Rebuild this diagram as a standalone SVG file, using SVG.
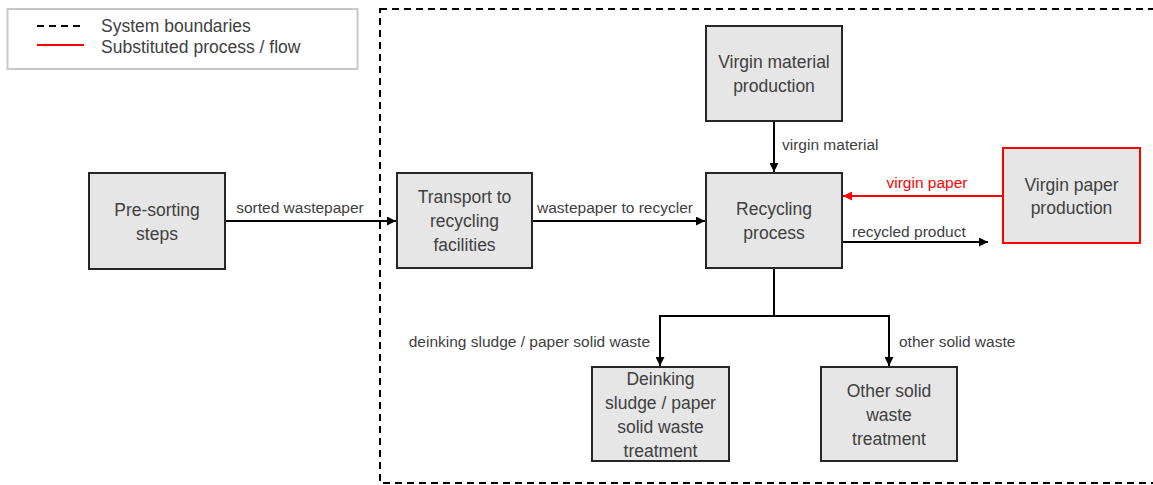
<svg xmlns="http://www.w3.org/2000/svg" width="1153" height="485" viewBox="0 0 1153 485">
<style>
.node{fill:#e6e6e6;stroke:#262626;stroke-width:2}
.nt{font-family:"Liberation Sans",Arial,sans-serif;font-size:17.5px;fill:#404040;text-anchor:middle}
.el{font-family:"Liberation Sans",Arial,sans-serif;font-size:15.5px;fill:#404040}
.lg{font-family:"Liberation Sans",Arial,sans-serif;font-size:17.5px;fill:#404040}
.ln{fill:none;stroke:#000;stroke-width:2}
.red{fill:none;stroke:#ff0000;stroke-width:2}
</style>
<defs>
<marker id="ah" viewBox="0 0 10 10" refX="10" refY="5" markerWidth="4.5" markerHeight="4.5" orient="auto" markerUnits="strokeWidth"><path d="M0,0 L10,5 L0,10 z" fill="#000"/></marker>
<marker id="ahr" viewBox="0 0 10 10" refX="10" refY="5" markerWidth="4.5" markerHeight="4.5" orient="auto" markerUnits="strokeWidth"><path d="M0,0 L10,5 L0,10 z" fill="#ff0000"/></marker>
</defs>
<rect width="1153" height="485" fill="#fff"/>
<g id="legend">
<rect x="7.5" y="9" width="350" height="60" fill="#fff" stroke="#c8c8c8" stroke-width="2"/>
<line x1="37" y1="26" x2="84" y2="26" stroke="#000" stroke-width="2" stroke-dasharray="7,5"/>
<line x1="37" y1="45" x2="84" y2="45" stroke="#ff0000" stroke-width="2"/>
<text x="101" y="32" class="lg">System boundaries</text>
<text x="101" y="53" class="lg">Substituted process / flow</text>
</g>
<g id="boundary">
<rect x="380" y="9" width="800" height="474" fill="none" stroke="#000" stroke-width="2" stroke-dasharray="7,5"/>
</g>
<g id="connectors">
<line class="ln" x1="225" y1="221" x2="396" y2="221" marker-end="url(#ah)"/>
<text class="el" x="300" y="213" text-anchor="middle">sorted wastepaper</text>
<line class="ln" x1="532" y1="221" x2="705" y2="221" marker-end="url(#ah)"/>
<text class="el" x="615" y="213" text-anchor="middle">wastepaper to recycler</text>
<line class="ln" x1="774" y1="121" x2="774" y2="172" marker-end="url(#ah)"/>
<text class="el" x="782" y="150">virgin material</text>
<line class="red" x1="1003" y1="196" x2="843" y2="196" marker-end="url(#ahr)"/>
<text class="el" x="927" y="188" text-anchor="middle" style="fill:#ff0000">virgin paper</text>
<line class="ln" x1="842" y1="242" x2="988" y2="242" marker-end="url(#ah)"/>
<text class="el" x="852" y="237">recycled product</text>
<line class="ln" x1="774" y1="268" x2="774" y2="316"/>
<polyline class="ln" points="660,366 660,316 889,316 889,366" marker-end="url(#ah)"/>
<line class="ln" x1="660" y1="316" x2="660" y2="366" marker-end="url(#ah)"/>
<text class="el" x="650" y="347" text-anchor="end">deinking sludge / paper solid waste</text>
<text class="el" x="899" y="347">other solid waste</text>
</g>
<g id="presorting">
<rect class="node" x="89" y="173" width="136" height="96"/>
<text class="nt" x="157" y="216">Pre-sorting</text>
<text class="nt" x="157" y="240">steps</text>
</g>
<g id="transport">
<rect class="node" x="397" y="173" width="135" height="95"/>
<text class="nt" x="464.5" y="203">Transport to</text>
<text class="nt" x="464.5" y="227">recycling</text>
<text class="nt" x="464.5" y="251">facilities</text>
</g>
<g id="virginmaterial">
<rect class="node" x="706" y="26" width="136" height="95"/>
<text class="nt" x="774" y="68">Virgin material</text>
<text class="nt" x="774" y="92">production</text>
</g>
<g id="recycling">
<rect class="node" x="706" y="173" width="136" height="95"/>
<text class="nt" x="774" y="215">Recycling</text>
<text class="nt" x="774" y="239">process</text>
</g>
<g id="virginpaper">
<rect class="node" x="1003" y="148" width="137" height="95" style="stroke:#ff0000"/>
<text class="nt" x="1071.5" y="191">Virgin paper</text>
<text class="nt" x="1071.5" y="214">production</text>
</g>
<g id="deinking">
<rect class="node" x="592" y="367" width="137" height="94"/>
<text class="nt" x="660.5" y="385">Deinking</text>
<text class="nt" x="660.5" y="409">sludge / paper</text>
<text class="nt" x="660.5" y="433">solid waste</text>
<text class="nt" x="660.5" y="457">treatment</text>
</g>
<g id="othersolid">
<rect class="node" x="821" y="367" width="136" height="94"/>
<text class="nt" x="889" y="397">Other solid</text>
<text class="nt" x="889" y="421">waste</text>
<text class="nt" x="889" y="445">treatment</text>
</g>
</svg>
